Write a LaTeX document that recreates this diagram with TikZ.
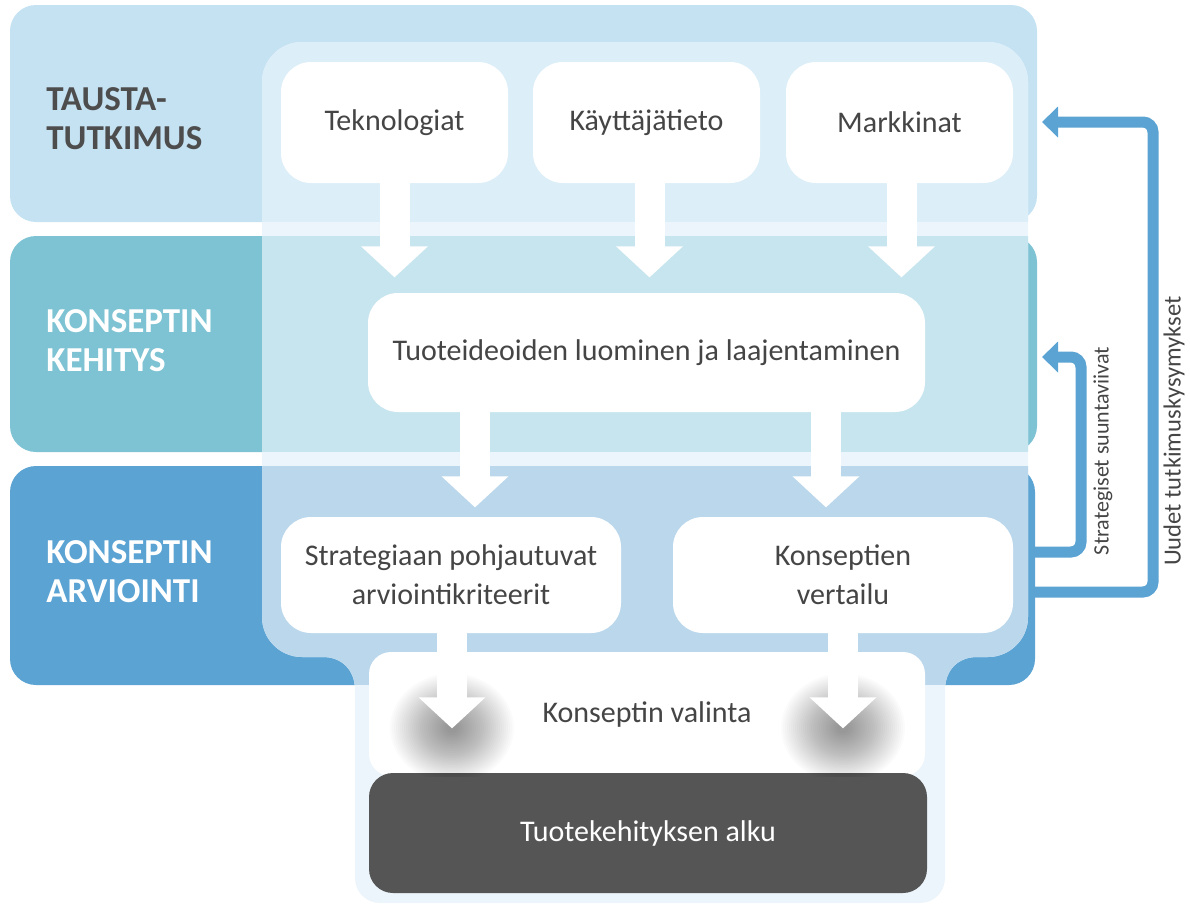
\documentclass[tikz,border=0pt]{standalone}
\usepackage{fontspec}
\setmainfont{Carlito}
\usetikzlibrary{arrows.meta, positioning}

\definecolor{taustac}{HTML}{C5E2F3}
\definecolor{kehc}{HTML}{7EC3D3}
\definecolor{arvc}{HTML}{5BA3D3}
\definecolor{paneelia}{HTML}{DCEEF8}
\definecolor{paneelib}{HTML}{C7E5EE}
\definecolor{paneelic}{HTML}{BBD7EC}
\definecolor{paneelivali}{HTML}{ECF5FB}
\definecolor{teksti}{HTML}{454545}
\definecolor{otsikko}{HTML}{4D4D4D}
\definecolor{tumma}{HTML}{555555}

\newcommand{\paneeli}{(262,82) .. controls (262,60) and (280,42) .. (302,42)
  -- (988,42) .. controls (1010,42) and (1028,60) .. (1028,82)
  -- (1028,617) .. controls (1028,639) and (1010,657) .. (988,657)
  -- (977,657) .. controls (958,657) and (945,670) .. (945,690)
  -- (945,878) .. controls (945,892) and (934,903) .. (920,903)
  -- (380,903) .. controls (366,903) and (355,892) .. (355,878)
  -- (355,690) .. controls (355,670) and (342,657) .. (323,657)
  -- (302,657) .. controls (280,657) and (262,639) .. (262,617) -- cycle}

\tikzset{
  vaihe/.style={anchor=west, align=left, font=\fontsize{17.5}{19.5}\selectfont\bfseries, inner sep=0pt},
  laatikko/.style={fill=white, rounded corners=15pt, text=teksti, align=center, inner sep=0pt,
    font=\fontsize{15}{19.5}\selectfont},
  isonuoli/.style={draw=white, line width=15pt, -{Triangle[width=32.5pt,length=15.5pt]}},
  palaute/.style={draw=arvc, line width=5.5pt, rounded corners=5pt, -{Triangle[width=15pt,length=8pt]}},
  sivu/.style={text=teksti, font=\fontsize{12.3}{14}\selectfont, rotate=90, inner sep=0pt}
}

\begin{document}
\begin{tikzpicture}[x=0.5pt, y=-0.5pt]
\useasboundingbox (0,0) rectangle (1190,905);

% vaiheet
\fill[taustac, rounded corners=13pt] (10,5) rectangle (1037,222);
\fill[kehc, rounded corners=13pt] (10,236) rectangle (1037,452);
\fill[arvc, rounded corners=13pt] (10,466) rectangle (1035,685);

\node[vaihe, text=otsikko] (tausta) at (46,119) {TAUSTA-\\TUTKIMUS};
\node[vaihe, text=white] (kehitys) at (46,341) {KONSEPTIN\\KEHITYS};
\node[vaihe, text=white] (arviointi) at (46,572) {KONSEPTIN\\ARVIOINTI};

% paneeli
\fill[paneelivali] \paneeli;
\begin{scope}
  \clip \paneeli;
  \fill[paneelia] (0,5) rectangle (1190,222);
  \fill[paneelib] (0,236) rectangle (1190,452);
  \fill[paneelic] (0,466) rectangle (1190,685);
\end{scope}

% laatikot
\node[laatikko, minimum width=113.5pt, minimum height=60.5pt] (tek) at (394.5,122.5) {Teknologiat};
\node[laatikko, minimum width=113.5pt, minimum height=60.5pt] (kay) at (646.5,122.5) {Käyttäjätieto};
\node[laatikko, minimum width=113.5pt, minimum height=60.5pt] (mar) at (899.5,122.5) {Markkinat};
\node[laatikko, minimum width=278.5pt, minimum height=59.5pt] (idea) at (646.5,352.5) {Tuoteideoiden luominen ja laajentaminen};
\node[laatikko, minimum width=170pt, minimum height=58pt] (krit) at (451,575) {Strategiaan pohjautuvat\\arviointikriteerit};
\node[laatikko, minimum width=170pt, minimum height=58pt] (vert) at (843,575) {Konseptien\\vertailu};
\node[laatikko, rounded corners=11pt, minimum width=278pt, minimum height=62pt] (valinta) at (647,714) {Konseptin valinta};
\node[laatikko, fill=tumma, text=white, rounded corners=12pt, minimum width=279pt, minimum height=60pt] (alku) at (648,833) {Tuotekehityksen alku};

% varjot
\begin{scope}
  \clip (valinta.north west) rectangle (valinta.south east);
  \foreach \r in {3,4,...,31}{
    \fill[black, opacity=0.017] (452,728) ellipse [x radius=\r pt, y radius=0.88*\r pt];
    \fill[black, opacity=0.017] (843,728) ellipse [x radius=\r pt, y radius=0.88*\r pt];
  }
\end{scope}

% nuolet
\draw[isonuoli] (tek.south) -- ++(0,94);
\draw[isonuoli] ([xshift=1.5pt]kay.south) -- ++(0,94);
\draw[isonuoli] ([xshift=1pt]mar.south) -- ++(0,94);
\draw[isonuoli] ([xshift=-85.75pt]idea.south) -- ++(0,95);
\draw[isonuoli] ([xshift=89.75pt]idea.south) -- ++(0,95);
\draw[isonuoli] ([xshift=0.5pt]krit.south) -- ++(0,95);
\draw[isonuoli] (vert.south) -- ++(0,95);

% palaute
\coordinate (u1) at (1030,592);
\coordinate (u2) at (1042,122);
\coordinate (s1) at (1030,552);
\coordinate (s2) at (1042,357);
\draw[palaute] (u1) -- (1153,592) -- (1153,122) -- (u2);
\draw[palaute] (s1) -- (1081,552) -- (1081,357) -- (s2);

\node[sivu] (uudet) at (1174,431) {Uudet tutkimuskysymykset};
\node[sivu, font=\fontsize{11}{13}\selectfont] (strat) at (1103,451) {Strategiset suuntaviivat};
\end{tikzpicture}
\end{document}
